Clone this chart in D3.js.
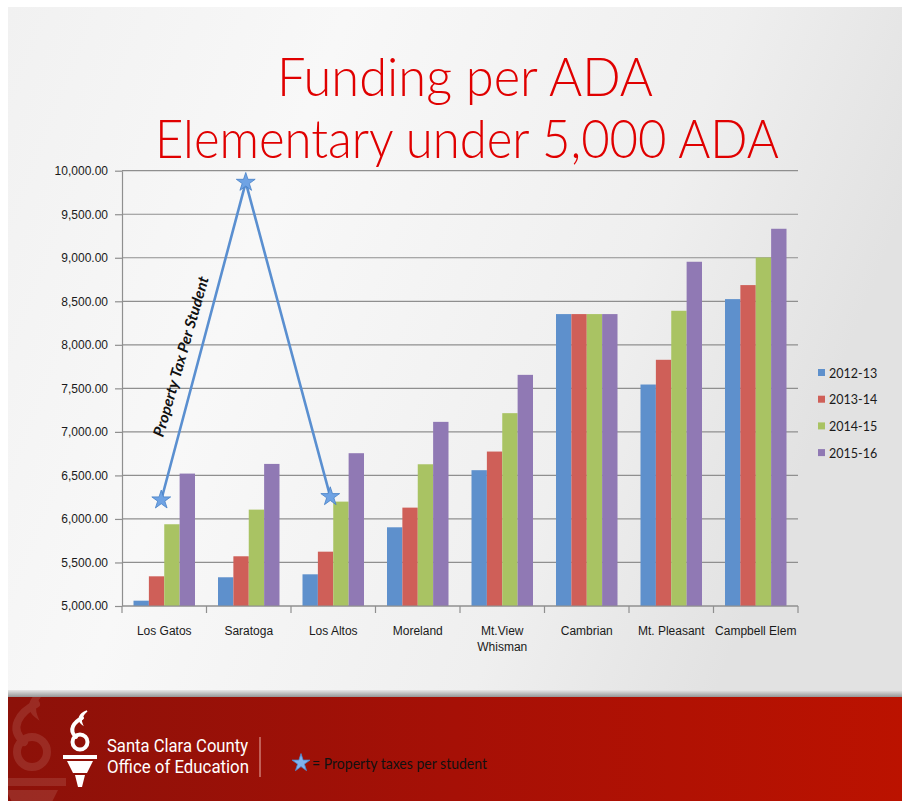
<!DOCTYPE html>
<html>
<head>
<meta charset="utf-8">
<script src="https://cdn.jsdelivr.net/npm/d3@7"></script>
<style>
  body { margin: 0; background: #fff; }
  svg { display: block; }
</style>
</head>
<body>
<div id="chart"></div>
<script>
// ---- data ----
var districts = ["Los Gatos", "Saratoga", "Los Altos", "Moreland", "Mt.View Whisman", "Cambrian", "Mt. Pleasant", "Campbell Elem"];
var years = ["2012-13", "2013-14", "2014-15", "2015-16"];
var funding2012 = [5061, 5330, 5364, 5904, 6560, 8353, 7544, 8525];
var funding2013 = [5341, 5571, 5624, 6130, 6774, 8353, 7828, 8686];
var funding2014 = [5939, 6107, 6199, 6628, 7215, 8353, 8391, 9003];
var funding2015 = [6521, 6632, 6755, 7115, 7655, 8353, 8954, 9333];
var taxDistricts = ["Los Gatos", "Saratoga", "Los Altos"];
var taxPerStudent = [6218, 9866, 6256];
var yTicks = [5000, 5500, 6000, 6500, 7000, 7500, 8000, 8500, 9000, 9500, 10000];

var seriesValues = [funding2012, funding2013, funding2014, funding2015];
var colors = ["#5e90cc", "#cf5f58", "#a9c363", "#9079b4"];

var W = 902, H = 801;
var plot = { left: 122, right: 798, top: 170.7, bottom: 606 };

var svg = d3.select("#chart").append("svg")
    .attr("width", W)
    .attr("height", H);

var defs = svg.append("defs");
var bg = defs.append("linearGradient").attr("id", "bg")
    .attr("x1", "0").attr("y1", "0").attr("x2", "1").attr("y2", "0.3");
bg.append("stop").attr("offset", "0").attr("stop-color", "#f1f1f1");
bg.append("stop").attr("offset", "0.35").attr("stop-color", "#f8f8f8");
bg.append("stop").attr("offset", "0.75").attr("stop-color", "#efefef");
bg.append("stop").attr("offset", "1").attr("stop-color", "#e2e2e2");

var foot = defs.append("linearGradient").attr("id", "foot")
    .attr("x1", "0").attr("y1", "0").attr("x2", "1").attr("y2", "0");
foot.append("stop").attr("offset", "0").attr("stop-color", "#8c1109");
foot.append("stop").attr("offset", "0.5").attr("stop-color", "#a61006");
foot.append("stop").attr("offset", "1").attr("stop-color", "#bb1200");

var shadow = defs.append("linearGradient").attr("id", "shadow")
    .attr("x1", "0").attr("y1", "0").attr("x2", "0").attr("y2", "1");
shadow.append("stop").attr("offset", "0").attr("stop-color", "#e6e6e6");
shadow.append("stop").attr("offset", "1").attr("stop-color", "#8a8a8a");

defs.append("clipPath").attr("id", "footClip")
    .append("rect").attr("x", 8).attr("y", 697).attr("width", W - 8).attr("height", H - 697);

// slide background
svg.append("rect").attr("x", 8).attr("y", 7).attr("width", W - 8).attr("height", 690)
    .attr("fill", "url(#bg)");

// title
var title = svg.append("g")
    .style("font-family", "Lato, 'Open Sans', sans-serif")
    .style("font-weight", 300)
    .attr("fill", "#e00000")
    .attr("text-anchor", "middle");
title.append("text").attr("x", 465).attr("y", 96)
    .style("font-size", "53px")
    .attr("textLength", 376).attr("lengthAdjust", "spacingAndGlyphs")
    .text("Funding per ADA");
title.append("text").attr("x", 467).attr("y", 158)
    .style("font-size", "53px")
    .attr("textLength", 624).attr("lengthAdjust", "spacingAndGlyphs")
    .text("Elementary under 5,000 ADA");

// scales
var x0 = d3.scaleBand().domain(districts).range([plot.left, plot.right]).padding(0);
var x1 = d3.scaleBand().domain(years).range([11.5, x0.bandwidth() - 11.5]).padding(0);
var y = d3.scaleLinear().domain([5000, 10000]).range([plot.bottom, plot.top]);

var chart = svg.append("g")
    .style("font-family", "Lato, 'Open Sans', sans-serif");

// gridlines
chart.append("g")
    .selectAll("line")
    .data(yTicks)
    .enter()
    .append("line")
    .attr("x1", plot.left).attr("x2", plot.right)
    .attr("y1", function(d) { return y(d); })
    .attr("y2", function(d) { return y(d); })
    .attr("stroke", "#8f8f8f")
    .attr("stroke-width", 1.2);

// y axis
var yAxis = chart.append("g")
    .attr("transform", "translate(" + plot.left + ",0)")
    .call(d3.axisLeft(y).tickValues(yTicks).tickFormat(d3.format(",.2f")).tickSizeInner(7).tickSizeOuter(0).tickPadding(7));
yAxis.select(".domain").attr("stroke", "#8f8f8f").attr("stroke-width", 1.2);
yAxis.selectAll("line").attr("stroke", "#8f8f8f").attr("stroke-width", 1.2);
yAxis.selectAll("text").style("font-size", "12px").attr("fill", "#1a1a1a");

// bars
districts.forEach(function(dist, i) {
    chart.append("g")
        .attr("transform", "translate(" + x0(dist) + ",0)")
        .selectAll("rect")
        .data(years.map(function(yr, j) { return { year: yr, value: seriesValues[j][i], color: colors[j] }; }))
        .enter()
        .append("rect")
        .attr("x", function(d) { return x1(d.year); })
        .attr("width", x1.bandwidth())
        .attr("y", function(d) { return y(d.value); })
        .attr("height", function(d) { return y(5000) - y(d.value); })
        .attr("fill", function(d) { return d.color; });
});

// x axis: ticks between categories
var xAxis = chart.append("g")
    .attr("transform", "translate(0," + plot.bottom + ")");
xAxis.append("line")
    .attr("x1", plot.left).attr("x2", plot.right)
    .attr("stroke", "#8f8f8f").attr("stroke-width", 1.2);
xAxis.selectAll(".tk")
    .data(districts.concat(["end"]))
    .enter()
    .append("line")
    .attr("class", "tk")
    .attr("x1", function(d, i) { return plot.left + i * x0.bandwidth(); })
    .attr("x2", function(d, i) { return plot.left + i * x0.bandwidth(); })
    .attr("y1", 0).attr("y2", 7)
    .attr("stroke", "#8f8f8f").attr("stroke-width", 1.2);

xAxis.call(d3.axisBottom(x0).tickSize(0).tickPadding(20));
xAxis.select(".domain").remove();
xAxis.selectAll(".tick text")
    .style("font-size", "12px")
    .attr("fill", "#1a1a1a")
    .each(function(d) {
        var t = d3.select(this);
        t.text(null);
        var words = d.split(" ");
        var line = [], lines = [];
        words.forEach(function(w) {
            var test = line.concat([w]).join(" ");
            if (line.length && test.length > 13) { lines.push(line.join(" ")); line = [w]; }
            else line.push(w);
        });
        lines.push(line.join(" "));
        lines.forEach(function(l, k) {
            t.append("tspan").attr("x", 0).attr("dy", k === 0 ? "0.71em" : "1.35em").text(l);
        });
    });

// property tax line and stars
var taxPts = taxDistricts.map(function(d, i) {
    return [x0(d) + x0.bandwidth() / 2 - 3, y(taxPerStudent[i])];
});
chart.append("path")
    .datum(taxPts)
    .attr("d", d3.line())
    .attr("fill", "none")
    .attr("stroke", "#5a8fd0")
    .attr("stroke-width", 2.6);

var star = d3.symbol().type(d3.symbolStar).size(110);
chart.selectAll(".star")
    .data(taxPts)
    .enter()
    .append("path")
    .attr("class", "star")
    .attr("d", star)
    .attr("transform", function(d) { return "translate(" + d[0] + "," + d[1] + ")"; })
    .attr("fill", "#6fa3e4")
    .attr("stroke", "#4680c6")
    .attr("stroke-width", 0.8);

chart.append("text")
    .attr("transform", "translate(186,358) rotate(-74)")
    .attr("text-anchor", "middle")
    .style("font-size", "15px")
    .style("font-weight", "bold")
    .style("font-style", "italic")
    .attr("textLength", 166).attr("lengthAdjust", "spacingAndGlyphs")
    .attr("fill", "#111")
    .text("Property Tax Per Student");

// legend
var legend = chart.append("g").attr("transform", "translate(818,373)");
years.forEach(function(yr, j) {
    var g = legend.append("g").attr("transform", "translate(0," + j * 26.7 + ")");
    g.append("rect").attr("x", 0).attr("y", -4).attr("width", 7).attr("height", 7).attr("fill", colors[j]);
    g.append("text").attr("x", 11).attr("y", 4.5)
        .style("font-size", "12.5px").attr("fill", "#1a1a1a").text(yr);
});

// footer
svg.append("rect").attr("x", 8).attr("y", 690).attr("width", W - 8).attr("height", 8)
    .attr("fill", "url(#shadow)");
svg.append("rect").attr("x", 8).attr("y", 697).attr("width", W - 8).attr("height", H - 697)
    .attr("fill", "url(#foot)");

// torch logo, drawn around the centre of its ring
function drawTorch(g, col) {
    g.append("circle").attr("r", 7.5).attr("fill", "none").attr("stroke", col).attr("stroke-width", 4);
    g.append("path").attr("d", "M-4 -5 C-12 -12 -6 -20 2 -24")
        .attr("fill", "none").attr("stroke", col).attr("stroke-width", 4).attr("stroke-linecap", "round");
    g.append("path").attr("d", "M7 -31 C-1 -28 -3 -22 2 -18 C0 -23 2 -27 7 -31 Z").attr("fill", col)
        .attr("stroke", col).attr("stroke-width", 1.5);
    g.append("rect").attr("x", -17).attr("y", 13).attr("width", 34).attr("height", 4).attr("fill", col);
    g.append("path").attr("d", "M-13 19 L13 19 L7 31 L-7 31 Z").attr("fill", col);
    g.append("path").attr("d", "M-5 33 L5 33 L2 45 L-2 45 Z").attr("fill", col);
}
var wm = svg.append("g").attr("clip-path", "url(#footClip)")
    .append("g").attr("transform", "translate(32,752) scale(2)").attr("opacity", 0.13);
drawTorch(wm, "#f4d6cf");
var torch = svg.append("g").attr("transform", "translate(80,742)");
drawTorch(torch, "#ffffff");

var ft = svg.append("g")
    .style("font-family", "'Liberation Sans Narrow', 'Roboto', sans-serif")
    .attr("fill", "#ffffff");
ft.append("text").attr("x", 107).attr("y", 752).style("font-size", "18px")
    .attr("textLength", 141).attr("lengthAdjust", "spacingAndGlyphs").text("Santa Clara County");
ft.append("text").attr("x", 107).attr("y", 773).style("font-size", "18px")
    .attr("textLength", 142).attr("lengthAdjust", "spacingAndGlyphs").text("Office of Education");
svg.append("line").attr("x1", 260).attr("x2", 260).attr("y1", 737).attr("y2", 777)
    .attr("stroke", "#e8b0a8").attr("stroke-width", 1);

svg.append("path")
    .attr("d", d3.symbol().type(d3.symbolStar).size(100))
    .attr("transform", "translate(301,763)")
    .attr("fill", "#7fb2ee")
    .attr("stroke", "#4a86cf")
    .attr("stroke-width", 0.8);
svg.append("text").attr("x", 312).attr("y", 769)
    .style("font-family", "Lato, 'Open Sans', sans-serif")
    .style("font-size", "15px")
    .attr("textLength", 175).attr("lengthAdjust", "spacingAndGlyphs")
    .attr("fill", "#111")
    .text("= Property taxes per student");
</script>
</body>
</html>
